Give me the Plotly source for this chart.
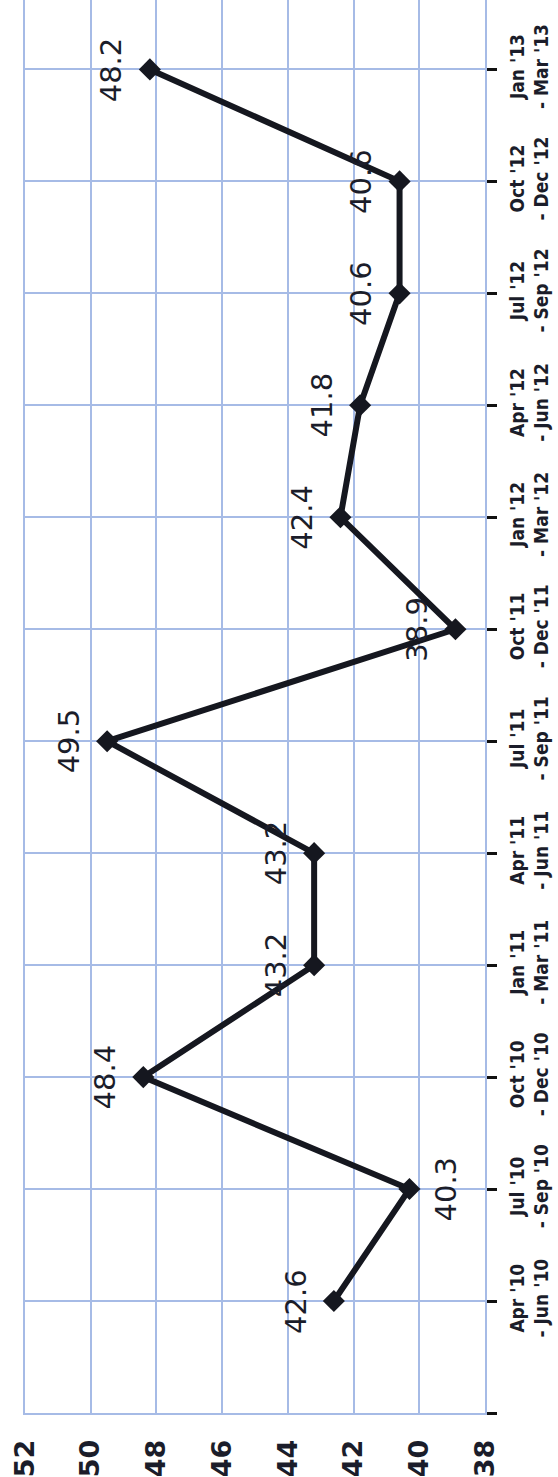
import plotly.graph_objects as go

# Quarterly periods (category axis) and their values
quarters = [
    "Apr '10<br>- Jun '10", "Jul '10<br>- Sep '10", "Oct '10<br>- Dec '10",
    "Jan '11<br>- Mar '11", "Apr '11<br>- Jun '11", "Jul '11<br>- Sep '11",
    "Oct '11<br>- Dec '11", "Jan '12<br>- Mar '12", "Apr '12<br>- Jun '12",
    "Jul '12<br>- Sep '12", "Oct '12<br>- Dec '12", "Jan '13<br>- Mar '13",
]
values = [42.6, 40.3, 48.4, 43.2, 43.2, 49.5, 38.9, 42.4, 41.8, 40.6, 40.6, 48.2]
value_ticks = [52, 50, 48, 46, 44, 42, 40, 38]

GRID = "#a6bbe6"
INK = "#1b1d2a"
positions = list(range(len(quarters)))

fig = go.Figure()
fig.add_trace(go.Scatter(
    x=values, y=positions, mode="lines+markers",
    line=dict(color="#15171f", width=6),
    marker=dict(symbol="diamond", size=17, color="#15171f"),
    cliponaxis=False, hoverinfo="skip",
))

# value labels, written sideways next to each point
below = {1}
for i, v in enumerate(values):
    fig.add_annotation(
        x=v, y=i, xref="x", yref="y", text=f"{v:.1f}", showarrow=False,
        textangle=-90, xshift=37 if i in below else -38,
        font=dict(family="DejaVu Sans", size=29, color=INK),
    )

fig.update_layout(
    width=558, height=1477,
    margin=dict(l=25, r=73, t=0, b=61),
    paper_bgcolor="white", plot_bgcolor="white",
    showlegend=False,
)
fig.update_xaxes(
    range=[52, 38], tickvals=value_ticks, ticktext=[str(t) for t in value_ticks],
    tickangle=-90, ticks="", ticklabelstandoff=14,
    tickfont=dict(family="DejaVu Sans", size=27, color=INK, weight="bold"),
    showgrid=True, gridcolor=GRID, gridwidth=2,
    showline=True, linecolor=GRID, linewidth=2, mirror=False,
    zeroline=False,
)
fig.update_yaxes(
    range=[-1, 11.62], side="right",
    tickvals=[-1] + positions, ticktext=[""] + quarters,
    tickangle=-90, ticks="outside", ticklen=10, tickwidth=3, tickcolor="#111111",
    ticklabelstandoff=4,
    tickfont=dict(family="Liberation Sans Narrow, DejaVu Sans Condensed, Liberation Sans",
                  size=19, color=INK, weight="bold"),
    showgrid=True, gridcolor=GRID, gridwidth=2,
    showline=True, linecolor=GRID, linewidth=2, mirror=True,
    zeroline=False,
)

fig.write_html("out.html")
